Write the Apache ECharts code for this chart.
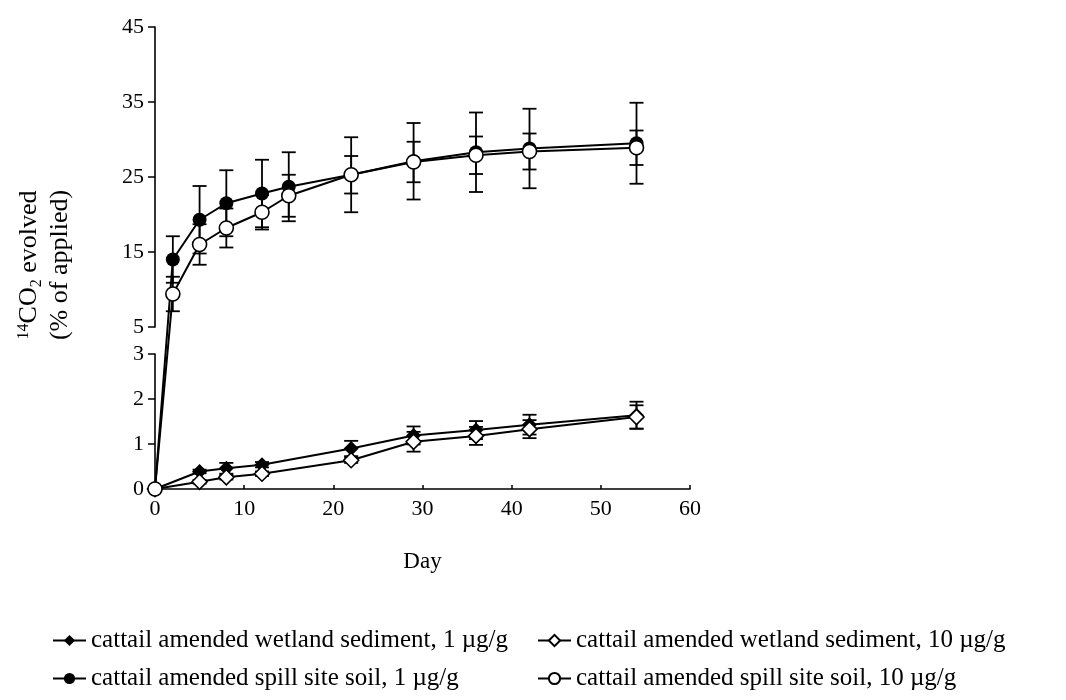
<!DOCTYPE html>
<html>
<head>
<meta charset="utf-8">
<script src="https://cdn.jsdelivr.net/npm/echarts@6/dist/echarts.min.js"></script>
<style>
  html, body { margin: 0; padding: 0; background: #fff; }
  #chart { width: 1066px; height: 700px; }
</style>
</head>
<body>
<div id="chart"></div>
<script>
// data
const soilDays = [0, 2, 5, 8, 12, 15, 22, 29, 36, 42, 54];
const soil1 = [0, 14.0, 19.3, 21.5, 22.8, 23.7, 25.3, 27.1, 28.3, 28.8, 29.5];
const soil1Err = [0, 3.1, 4.5, 4.4, 4.5, 4.6, 5.0, 5.1, 5.3, 5.3, 5.4];
const soil10 = [0, 9.4, 16.0, 18.2, 20.3, 22.5, 25.3, 27.0, 27.9, 28.4, 28.9];
const soil10Err = [0, 2.3, 2.7, 2.6, 2.3, 2.8, 2.5, 2.7, 2.5, 2.4, 2.3];

const wetDays = [0, 5, 8, 12, 22, 29, 36, 42, 54];
const wet1 = [0, 0.39, 0.46, 0.54, 0.9, 1.19, 1.31, 1.43, 1.64];
const wet1Err = [0, 0.04, 0.12, 0.06, 0.17, 0.2, 0.2, 0.22, 0.3];
const wet10 = [0, 0.16, 0.26, 0.34, 0.64, 1.05, 1.18, 1.33, 1.6];
const wet10Err = [0, 0.04, 0.05, 0.05, 0.06, 0.22, 0.2, 0.2, 0.26];

const xTicks = [0, 10, 20, 30, 40, 50, 60];
const yTicksLow = [0, 1, 2, 3];
const yTicksHigh = [5, 15, 25, 35, 45];

const names = [
  'cattail amended wetland sediment, 1 \u00b5g/g',
  'cattail amended wetland sediment, 10 \u00b5g/g',
  'cattail amended spill site soil, 1 \u00b5g/g',
  'cattail amended spill site soil, 10 \u00b5g/g'
];

// broken y axis: 0-3 is stretched, 5-45 compressed (same as the figure)
const brk = v => v <= 3 ? v : 3.6 + (v - 5) / 6;
const YMAX = brk(45);

const FONT = 'Liberation Serif';

const pts = (days, vals) => days.map((d, i) => [d, brk(vals[i])]);
const bars = (days, vals, errs) => days
  .map((d, i) => [d, brk(vals[i] - errs[i]), brk(vals[i] + errs[i]), errs[i]])
  .filter(r => r[3] > 0);

const errRender = (params, api) => {
  const x = api.value(0);
  const lo = api.coord([x, api.value(1)]);
  const hi = api.coord([x, api.value(2)]);
  const w = 7;
  const st = { stroke: '#000', lineWidth: 1.8 };
  return {
    type: 'group',
    children: [
      { type: 'line', shape: { x1: lo[0], y1: lo[1], x2: hi[0], y2: hi[1] }, style: st },
      { type: 'line', shape: { x1: lo[0] - w, y1: lo[1], x2: lo[0] + w, y2: lo[1] }, style: st },
      { type: 'line', shape: { x1: hi[0] - w, y1: hi[1], x2: hi[0] + w, y2: hi[1] }, style: st }
    ]
  };
};

const lineSeries = (name, days, vals, symbol, filled) => ({
  name,
  type: 'line',
  xAxisIndex: 0,
  yAxisIndex: 0,
  data: pts(days, vals),
  symbol,
  symbolSize: symbol === 'diamond' ? 15 : 14,
  showAllSymbol: true,
  z: 3,
  lineStyle: { color: '#000', width: 2 },
  itemStyle: { color: filled ? '#000' : '#fff', borderColor: '#000', borderWidth: filled ? 0 : 1.6 },
  emphasis: { disabled: true }
});

const errSeries = (days, vals, errs) => ({
  type: 'custom',
  xAxisIndex: 0,
  yAxisIndex: 0,
  renderItem: errRender,
  data: bars(days, vals, errs),
  z: 1,
  silent: true
});

// one legend box per entry, laid out as two columns like the figure
const legendItem = (name, left, top) => ({
  data: [name], left, top, padding: 0,
  itemWidth: 33, itemHeight: 14,
  textStyle: { fontFamily: FONT, fontSize: 25, color: '#000' }
});

const axisText = { fontFamily: FONT, fontSize: 22, color: '#000' };
const axLine = { show: true, lineStyle: { color: '#000', width: 1.6 } };
const yTick = { length: 7, lineStyle: { color: '#000', width: 1.5 } };

const chart = echarts.init(document.getElementById('chart'));
chart.setOption({
  animation: false,
  textStyle: { fontFamily: FONT, color: '#000' },
  grid: [
    { left: 155, top: 27, width: 535, height: 462 }, // plotting area
    { left: 155, top: 27, width: 535, height: 300 }, // upper y scale
    { left: 155, top: 354, width: 535, height: 135 } // lower y scale
  ],
  xAxis: [
    {
      gridIndex: 0, type: 'value', min: 0, max: 60, interval: 10,
      axisLine: axLine,
      axisTick: { inside: true, length: 4, lineStyle: { color: '#000', width: 1.5 }, customValues: xTicks },
      axisLabel: Object.assign({ margin: 9, customValues: xTicks }, axisText),
      splitLine: { show: false },
      name: 'Day', nameLocation: 'middle', nameGap: 61,
      nameTextStyle: { fontFamily: FONT, fontSize: 23, color: '#000' }
    },
    { gridIndex: 1, type: 'value', min: 0, max: 60, show: false },
    { gridIndex: 2, type: 'value', min: 0, max: 60, show: false }
  ],
  yAxis: [
    { gridIndex: 0, type: 'value', min: 0, max: YMAX, show: false },
    {
      gridIndex: 1, type: 'value', min: 5, max: 45,
      axisLine: axLine,
      axisTick: Object.assign({ customValues: yTicksHigh }, yTick),
      axisLabel: Object.assign({ margin: 11, padding: [0, 0, 8, 0], customValues: yTicksHigh }, axisText),
      splitLine: { show: false }
    },
    {
      gridIndex: 2, type: 'value', min: 0, max: 3, interval: 1,
      axisLine: axLine,
      axisTick: Object.assign({ customValues: yTicksLow }, yTick),
      axisLabel: Object.assign({ margin: 11, padding: [0, 0, 8, 0], customValues: yTicksLow }, axisText),
      splitLine: { show: false }
    }
  ],
  legend: [
    legendItem(names[0], 52, 628),
    legendItem(names[1], 537, 628),
    legendItem(names[2], 52, 666),
    legendItem(names[3], 537, 666)
  ],
  graphic: [
    {
      type: 'text', x: 45, y: 265, rotation: Math.PI / 2,
      style: {
        text: '{sup|14}{n|CO}{sub|2}{n| evolved}\n{n|(% of applied)}',
        align: 'center', verticalAlign: 'middle',
        fill: '#000',
        rich: {
          n: { fontFamily: FONT, fontSize: 26, lineHeight: 31, verticalAlign: 'middle' },
          sup: { fontFamily: FONT, fontSize: 16, lineHeight: 31, verticalAlign: 'top', padding: [2, 0, 0, 0] },
          sub: { fontFamily: FONT, fontSize: 16, lineHeight: 31, verticalAlign: 'bottom' }
        }
      }
    }
  ],
  series: [
    errSeries(wetDays, wet1, wet1Err),
    errSeries(wetDays, wet10, wet10Err),
    errSeries(soilDays, soil1, soil1Err),
    errSeries(soilDays, soil10, soil10Err),
    lineSeries(names[0], wetDays, wet1, 'diamond', true),
    lineSeries(names[1], wetDays, wet10, 'diamond', false),
    lineSeries(names[2], soilDays, soil1, 'circle', true),
    lineSeries(names[3], soilDays, soil10, 'circle', false)
  ]
});
</script>
</body>
</html>
